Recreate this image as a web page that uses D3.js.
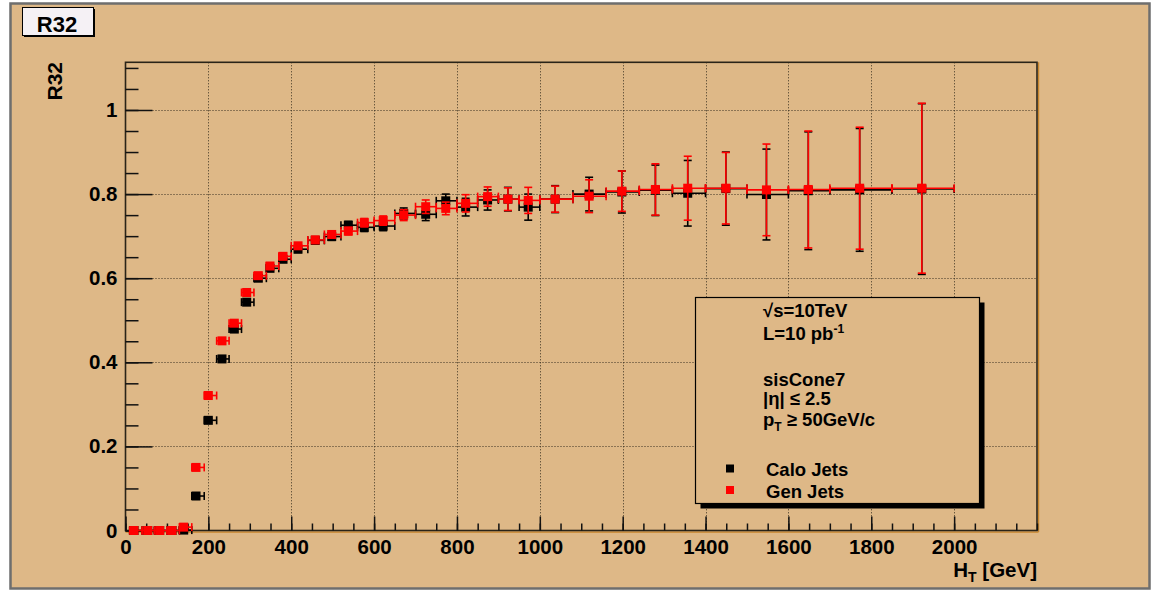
<!DOCTYPE html>
<html>
<head>
<meta charset="utf-8">
<script src="https://cdn.jsdelivr.net/npm/d3@7"></script>
<style>
  body { margin: 0; background: #fff; }
  svg text { font-family: "Liberation Sans", Arial, Helvetica, sans-serif; font-weight: bold; fill: #000; }
</style>
</head>
<body>
<script>
// bin edges (HT, GeV) and mean HT in each bin
const binEdges = [10, 40, 70, 100, 130, 160, 190, 220, 250, 280, 310, 340, 370, 400,
  440, 480, 520, 560, 600, 650, 700, 750, 800, 850, 900, 950, 1000,
  1080, 1160, 1240, 1320, 1400, 1500, 1600, 1700, 1850, 2000]
const htMean = [20.5, 53.6, 82.5, 112.2, 140.5, 170.2, 199.9, 232.9, 262.6, 292.5, 320.5, 348.8, 380.2,
  416.4, 458, 497.7, 537.8, 576.4, 622, 671.5, 724.6, 773, 821, 874, 923, 972,
  1037, 1119, 1198, 1279, 1357, 1449, 1547, 1648, 1772, 1922]

// R32 values
const caloR32 = [0, 0, 0, 0, 0.001, 0.082, 0.262, 0.408, 0.479, 0.543, 0.600, 0.6235, 0.645,
  0.669, 0.690, 0.699, 0.726, 0.721, 0.724, 0.754, 0.752, 0.784, 0.769, 0.786, 0.788, 0.769,
  0.788, 0.800, 0.805, 0.809, 0.802, 0.813, 0.799, 0.808, 0.810, 0.812]
const caloErr = [0.001, 0.001, 0.001, 0.001, 0.002, 0.004, 0.005, 0.006, 0.006, 0.006, 0.007, 0.007, 0.007,
  0.008, 0.008, 0.009, 0.009, 0.010, 0.011, 0.013, 0.015, 0.016, 0.021, 0.024, 0.028, 0.031,
  0.032, 0.040, 0.050, 0.060, 0.078, 0.087, 0.108, 0.140, 0.146, 0.203]
const genR32 = [0, 0, 0, 0, 0.008, 0.150, 0.321, 0.451, 0.493, 0.566, 0.606, 0.629, 0.652,
  0.677, 0.691, 0.704, 0.712, 0.732, 0.737, 0.750, 0.770, 0.766, 0.778, 0.794, 0.788, 0.785,
  0.788, 0.795, 0.807, 0.811, 0.814, 0.814, 0.810, 0.811, 0.814, 0.814]
const genErr = [0.002, 0.002, 0.002, 0.002, 0.003, 0.004, 0.005, 0.005, 0.005, 0.006, 0.006, 0.006, 0.007,
  0.007, 0.008, 0.008, 0.009, 0.010, 0.011, 0.013, 0.016, 0.015, 0.0206, 0.023, 0.027, 0.031,
  0.031, 0.039, 0.048, 0.061, 0.076, 0.085, 0.109, 0.139, 0.145, 0.202]

const xMajor = d3.range(0, 2001, 200)
const xMinor = d3.range(0, 2201, 50)
const yMajor = [0, 0.2, 0.4, 0.6, 0.8, 1]
const yMinor = d3.range(0, 1.11, 0.05)

const legendLines = ['√s=10TeV', 'L=10 pb', '', 'sisCone7', '|η| ≤ 2.5', 'p']

const W = 1153, H = 591
const bg = '#deb887'
const plot = { left: 125.5, right: 1037, top: 62.3, bottom: 530.5 }

const svg = d3.select('body').append('svg')
    .attr('width', W).attr('height', H)

svg.append('rect').attr('x', 10.5).attr('y', 3.5).attr('width', 1139).attr('height', 585)
    .attr('fill', bg).attr('stroke', '#6e6e6e').attr('stroke-width', 2.5)

const x = d3.scaleLinear().domain([0, 2200]).range([plot.left, plot.right])
const y = d3.scaleLinear().domain([0, 1.1134]).range([plot.bottom, plot.top])

// grid
const grid = svg.append('g').attr('stroke', '#3a3020').attr('stroke-width', 1).attr('stroke-dasharray', '1,2')
grid.selectAll('.gx').data(xMajor.filter(d => d > 0)).enter().append('line')
    .attr('x1', d => Math.round(x(d)) + 0.5).attr('x2', d => Math.round(x(d)) + 0.5)
    .attr('y1', plot.top).attr('y2', plot.bottom)
grid.selectAll('.gy').data(yMajor.filter(d => d > 0)).enter().append('line')
    .attr('y1', d => Math.round(y(d)) + 0.5).attr('y2', d => Math.round(y(d)) + 0.5)
    .attr('x1', plot.left).attr('x2', plot.right)

// frame
svg.append('line').attr('x1', plot.left).attr('x2', plot.right + 1.5).attr('y1', plot.bottom + 1.6).attr('y2', plot.bottom + 1.6)
    .attr('stroke', '#c8862c').attr('stroke-width', 1.2)
svg.append('line').attr('x1', plot.right + 1.6).attr('x2', plot.right + 1.6).attr('y1', plot.top).attr('y2', plot.bottom + 1.5)
    .attr('stroke', '#c8862c').attr('stroke-width', 1.2)
svg.append('rect').attr('x', plot.left).attr('y', plot.top)
    .attr('width', plot.right - plot.left).attr('height', plot.bottom - plot.top)
    .attr('fill', 'none').attr('stroke', '#2a2418').attr('stroke-width', 1.6)

// axes
const styleAxis = g => {
  g.select('.domain').remove()
  g.selectAll('line').attr('stroke', '#111').attr('stroke-width', 1.5)
  g.selectAll('text').style('font-size', '20.5px')
}
svg.append('g').attr('transform', `translate(0,${plot.bottom})`)
    .call(d3.axisBottom(x).tickValues(xMinor).tickSize(-7).tickFormat(''))
    .call(styleAxis)
svg.append('g').attr('transform', `translate(0,${plot.bottom})`)
    .call(d3.axisBottom(x).tickValues(xMajor).tickSize(-14).tickPadding(9).tickFormat(d3.format('d')))
    .call(styleAxis)
svg.append('g').attr('transform', `translate(${plot.left},0)`)
    .call(d3.axisLeft(y).tickValues(yMinor).tickSize(-13).tickFormat(''))
    .call(styleAxis)
svg.append('g').attr('transform', `translate(${plot.left},0)`)
    .call(d3.axisLeft(y).tickValues(yMajor).tickSize(-27).tickPadding(8).tickFormat(d => d === 0 || d === 1 ? d : d3.format('.1f')(d)))
    .call(styleAxis)

// axis titles
svg.append('text').attr('transform', 'translate(61.5,62) rotate(-90)')
    .attr('text-anchor', 'end').style('font-size', '21px').text('R32')
const xt = svg.append('text').attr('x', plot.right).attr('y', 577).attr('text-anchor', 'end').style('font-size', '20.5px')
xt.append('tspan').text('H')
xt.append('tspan').attr('dy', 5).style('font-size', '14px').text('T')
xt.append('tspan').attr('dy', -5).text(' [GeV]')

// data series
const drawSeries = (vals, errs, color) => {
  const g = svg.append('g').attr('stroke', color).attr('stroke-width', 1.6)
  const pts = htMean.map((m, i) => ({ m, lo: binEdges[i], hi: binEdges[i + 1], v: vals[i], e: errs[i] }))
  const cap = 4
  pts.forEach(p => {
    const cx = x(p.m), cy = y(p.v)
    g.append('line').attr('x1', x(p.lo)).attr('x2', x(p.hi)).attr('y1', cy).attr('y2', cy)
    g.append('line').attr('x1', x(p.lo)).attr('x2', x(p.lo)).attr('y1', cy - cap).attr('y2', cy + cap)
    g.append('line').attr('x1', x(p.hi)).attr('x2', x(p.hi)).attr('y1', cy - cap).attr('y2', cy + cap)
    g.append('line').attr('x1', cx).attr('x2', cx).attr('y1', y(p.v - p.e)).attr('y2', y(p.v + p.e))
    g.append('line').attr('x1', cx - cap).attr('x2', cx + cap).attr('y1', y(p.v - p.e)).attr('y2', y(p.v - p.e))
    g.append('line').attr('x1', cx - cap).attr('x2', cx + cap).attr('y1', y(p.v + p.e)).attr('y2', y(p.v + p.e))
  })
  svg.append('g').selectAll('rect').data(pts).enter().append('rect')
      .attr('x', d => x(d.m) - 4.5).attr('y', d => y(d.v) - 4.5)
      .attr('width', 9).attr('height', 9).attr('fill', color)
}
drawSeries(caloR32, caloErr, '#000')
drawSeries(genR32, genErr, '#ff0000')

// legend
const lg = { x: 695, y: 297, w: 284, h: 206 }
svg.append('rect').attr('x', lg.x + 5.5).attr('y', lg.y + 5.5).attr('width', lg.w).attr('height', lg.h).attr('fill', '#000')
svg.append('rect').attr('x', lg.x + 0.5).attr('y', lg.y + 0.5).attr('width', lg.w).attr('height', lg.h)
    .attr('fill', bg).attr('stroke', '#000').attr('stroke-width', 1.2)

const lineY = [317, 340, 363, 385.5, 405, 426]
legendLines.forEach((t, i) => {
  if (!t) return
  const tx = svg.append('text').attr('x', 763).attr('y', lineY[i]).style('font-size', '18.5px')
  tx.append('tspan').text(t)
  if (t === 'L=10 pb') tx.append('tspan').attr('dy', -7).style('font-size', '12px').text('-1')
  if (t === 'p') {
    tx.append('tspan').attr('dy', 5).style('font-size', '12px').text('T')
    tx.append('tspan').attr('dy', -5).text(' ≥ 50GeV/c')
  }
})

const legendItems = [{ name: 'Calo Jets', color: '#000', y: 476 }, { name: 'Gen Jets', color: '#ff0000', y: 497.5 }]
legendItems.forEach(d => {
  svg.append('rect').attr('x', 726).attr('y', d.y - 11.5).attr('width', 8).attr('height', 8).attr('fill', d.color)
  svg.append('text').attr('x', 766).attr('y', d.y).style('font-size', '18.5px').text(d.name)
})

// title box
svg.append('rect').attr('x', 24).attr('y', 9).attr('width', 71).attr('height', 28).attr('fill', '#000')
svg.append('rect').attr('x', 22.5).attr('y', 7.5).attr('width', 71).attr('height', 28)
    .attr('fill', '#f5f1f5').attr('stroke', '#000').attr('stroke-width', 1)
svg.append('text').attr('x', 57).attr('y', 32).attr('text-anchor', 'middle').style('font-size', '22px').text('R32')
</script>
</body>
</html>
